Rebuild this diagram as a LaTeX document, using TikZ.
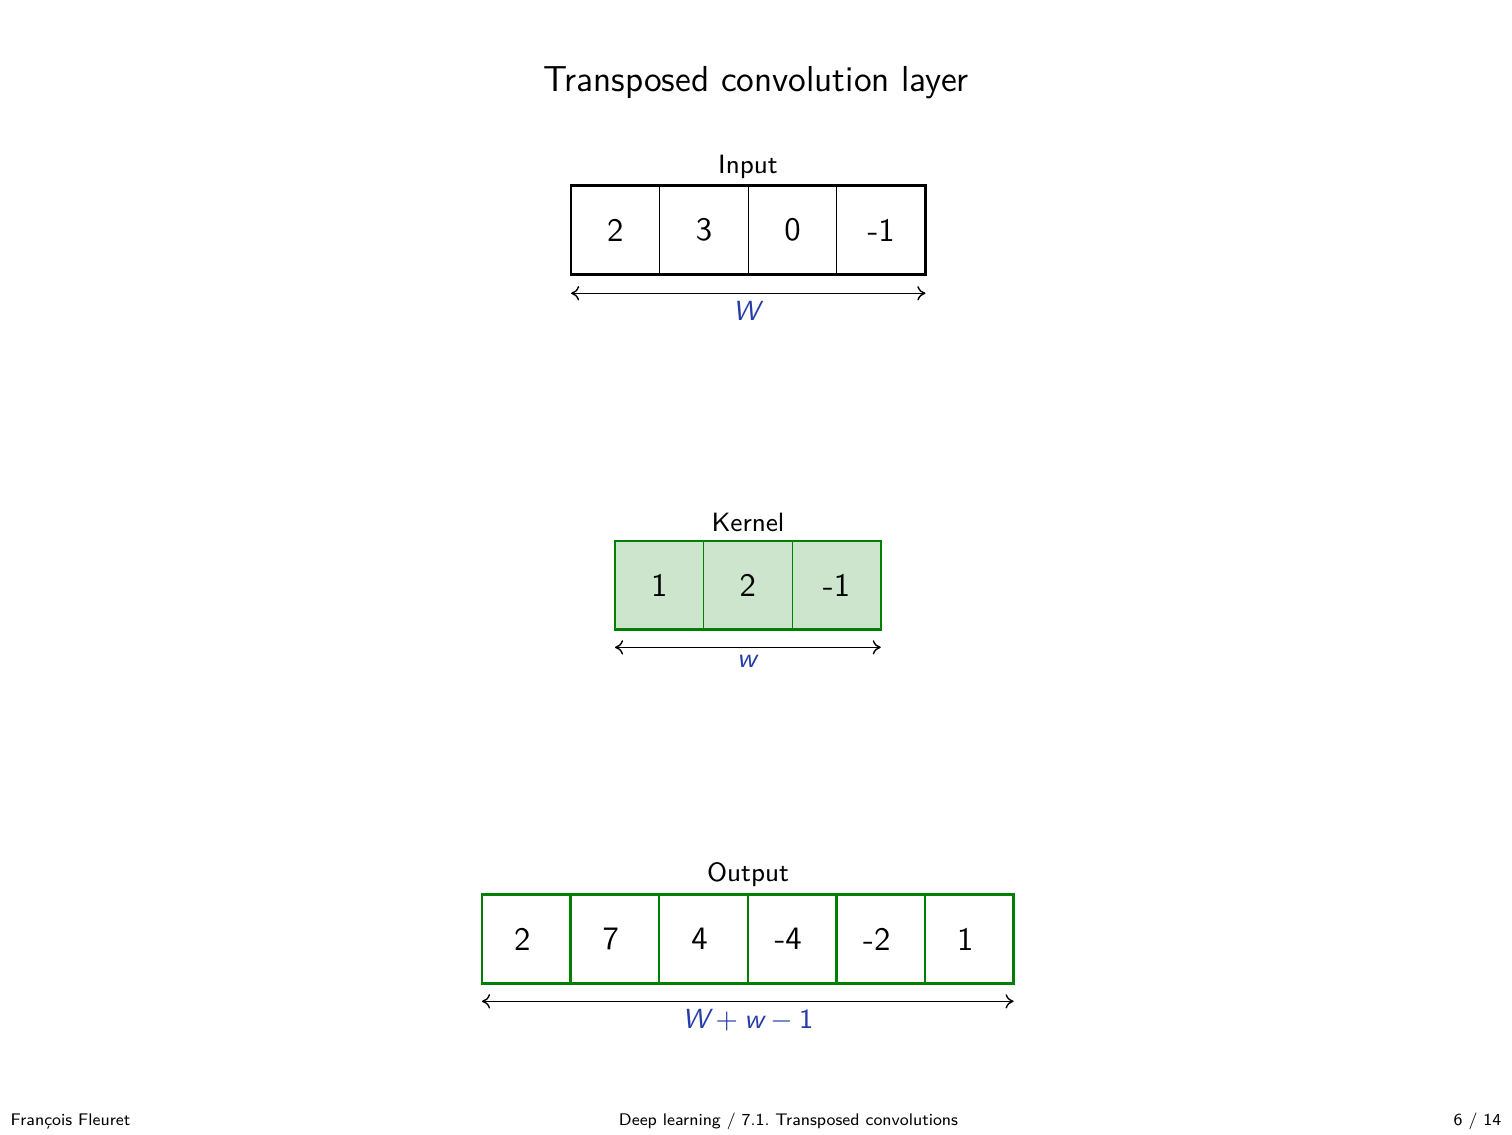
\documentclass[tikz,border=0pt]{standalone}
\usepackage{xcolor}
\usepackage{tikz}
\usetikzlibrary{positioning, arrows.meta}
\renewcommand{\familydefault}{\sfdefault}
\definecolor{structblue}{rgb}{0.15,0.24,0.66}
\definecolor{kgreen}{rgb}{0,0.5,0}

\begin{document}
\begin{tikzpicture}[
		>={To[length=2.6pt, width=4.6pt]},
		cell/.style={draw, minimum size=1cm, inner sep=0pt, outer sep=0pt, line width=0.4pt, font=\fontsize{10.5}{12}\selectfont},
		kcell/.style={cell, draw=kgreen, fill=kgreen!20},
		ocell/.style={cell, draw=kgreen, line width=0.8pt},
		rowlabel/.style={anchor=base, inner sep=0pt, font=\fontsize{8.5}{10}\selectfont},
		sizelabel/.style={text=structblue, inner sep=0pt, font=\fontsize{8.9}{10}\selectfont},
		sizearrow/.style={<->, line width=0.45pt},
		footer/.style={anchor=base, inner sep=0pt, font=\fontsize{5.4}{6.5}\selectfont}
	]
		\useasboundingbox (0,0) rectangle (17.065,-12.799);

		\node[anchor=base, font=\fontsize{11.6}{14}\selectfont] (title) at (8.533,-1.038) {Transposed convolution layer};

		% input
		\foreach \v [count=\i from 0] in {2,3,0,-1}
			\node[cell] (in\i) at (6.945+\i,-2.596) {\v};
		\draw[line width=0.8pt] (in0.north west) rectangle (in3.south east);
		\node[rowlabel] (inlab) at (8.442,-1.956) {Input};
		\draw[sizearrow] ([yshift=-0.214cm]in0.south west) -- ([yshift=-0.214cm]in3.south east)
			node[sizelabel, midway, yshift=-0.203cm] (inW) {\textit{W}};

		% kernel
		\foreach \v [count=\i from 0] in {1,2,-1}
			\node[kcell] (k\i) at (7.441+\i,-6.603) {\v};
		\draw[kgreen, line width=0.8pt] (k0.north west) rectangle (k2.south east);
		\node[rowlabel] (klab) at (8.442,-6.001) {Kernel};
		\draw[sizearrow] ([yshift=-0.203cm]k0.south west) -- ([yshift=-0.203cm]k2.south east)
			node[sizelabel, midway, yshift=-0.158cm] (kw) {\textit{w}};

		% output
		\foreach \v [count=\i from 0] in {2,7,4,-4,-2,1}
			\node[ocell] (out\i) at (5.940+\i,-10.598) {\hspace*{-0.09cm}\v};
		\node[rowlabel] (outlab) at (8.442,-9.951) {Output};
		\draw[sizearrow] ([yshift=-0.203cm]out0.south west) -- ([yshift=-0.203cm]out5.south east)
			node[sizelabel, midway, yshift=-0.214cm] (outW) {$\textit{W}+\textit{w}-\textup{1}$};

		% footline
		\node[footer, anchor=base west] (author) at (0.113,-12.705) {François Fleuret};
		\node[footer] (course) at (8.899,-12.705) {Deep learning / 7.1.\ Transposed convolutions};
		\node[footer, anchor=base east] (page) at (16.951,-12.705) {6 / 14};
	\end{tikzpicture}
\end{document}
